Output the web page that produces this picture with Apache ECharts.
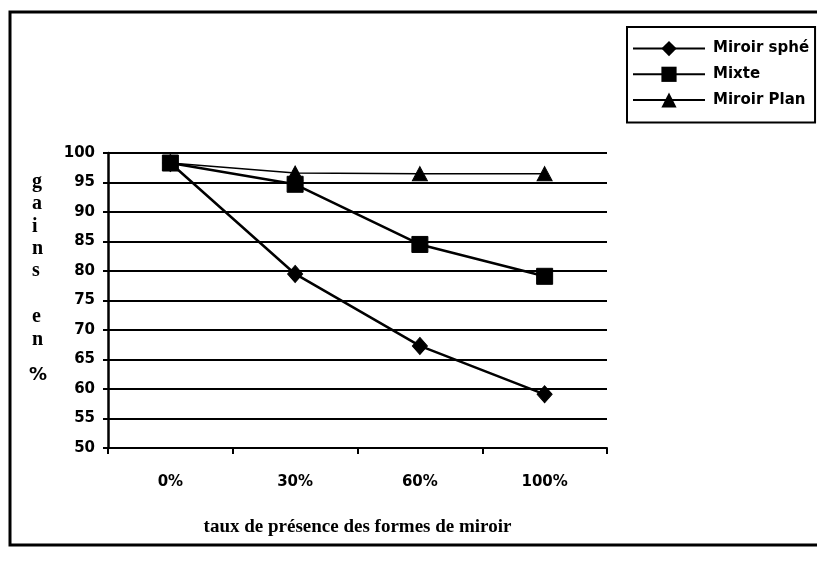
<!DOCTYPE html>
<html>
<head>
<meta charset="utf-8">
<script src="https://cdn.jsdelivr.net/npm/echarts@6/dist/echarts.min.js"></script>
<style>
  html, body { margin: 0; padding: 0; background: #fff; }
  #chart { width: 817px; height: 577px; }
</style>
</head>
<body>
<div id="chart"></div>
<script>
// Mirror-shape presence rate and the resulting gain (%)
var categories = ['0%', '30%', '60%', '100%'];
var seriesNames = ['Miroir sphé', 'Mixte', 'Miroir Plan'];
var miroirSphe = [98.3, 79.5, 67.3, 59.1];
var mixte = [98.3, 94.7, 84.5, 79.1];
var miroirPlan = [98.3, 96.6, 96.5, 96.5];
var yTicks = { min: 50, max: 100, step: 5 };
var yNameLetters = ['g', 'a', 'i', 'n', 's', 'e', 'n', '%'];

var chart = echarts.init(document.getElementById('chart'), null, { renderer: 'canvas' });

var labelFont = { color: '#000', fontFamily: 'DejaVu Sans', fontWeight: 'bold', fontSize: 15 };
var yLetterTop = [183, 205, 228, 250, 272, 318, 341, 377];

var option = {
  backgroundColor: '#fff',
  animation: false,
  grid: { left: 108, right: 210, top: 153, bottom: 129 },
  legend: {
    data: seriesNames,
    orient: 'vertical',
    left: 627,
    top: 27,
    padding: [14, 6, 15, 5],
    itemGap: 10.5,
    itemWidth: 72,
    itemHeight: 19,
    borderColor: '#000',
    borderWidth: 2,
    backgroundColor: '#fff',
    textStyle: { color: '#000', fontFamily: 'DejaVu Sans', fontWeight: 'bold', fontSize: 15, padding: [0, 0, 0, 3] }
  },
  xAxis: {
    type: 'category',
    data: categories,
    boundaryGap: true,
    name: 'taux de présence des formes de miroir',
    nameLocation: 'middle',
    nameGap: 70,
    nameTextStyle: { color: '#000', fontFamily: 'Liberation Serif', fontWeight: 'bold', fontSize: 19 },
    axisLine: { show: true, lineStyle: { color: '#000', width: 2 } },
    axisTick: { show: true, inside: false, length: 6, lineStyle: { color: '#000', width: 2 } },
    axisLabel: Object.assign({ margin: 27 }, labelFont),
    splitLine: { show: false }
  },
  yAxis: {
    type: 'value',
    min: yTicks.min,
    max: yTicks.max,
    interval: yTicks.step,
    axisLine: { show: true, lineStyle: { color: '#000', width: 2.5 } },
    axisTick: { show: true, inside: false, length: 5, lineStyle: { color: '#000', width: 2 } },
    axisLabel: Object.assign({ margin: 13 }, labelFont),
    splitLine: { show: true, lineStyle: { color: '#000', width: 2 } }
  },
  series: [
    {
      name: seriesNames[0], type: 'line', data: miroirSphe, z: 3,
      symbol: 'diamond', symbolSize: [15, 17],
      lineStyle: { color: '#000', width: 2.5 },
      itemStyle: { color: '#000', borderColor: '#000' }
    },
    {
      name: seriesNames[1], type: 'line', data: mixte, z: 5,
      symbol: 'rect', symbolSize: 16,
      lineStyle: { color: '#000', width: 2.5 },
      itemStyle: { color: '#000', borderColor: '#000' }
    },
    {
      name: seriesNames[2], type: 'line', data: miroirPlan, z: 4,
      symbol: 'triangle', symbolSize: [15, 14],
      lineStyle: { color: '#000', width: 1.5 },
      itemStyle: { color: '#000', borderColor: '#000' }
    }
  ],
  graphic: [
    {
      type: 'rect', z: -10, silent: true,
      shape: { x: 10, y: 12, width: 830, height: 533 },
      style: { fill: 'none', stroke: '#000', lineWidth: 3 }
    }
  ].concat(yNameLetters.map(function (ch, i) {
    return {
      type: 'text', silent: true,
      left: ch === '%' ? 29 : 32,
      top: yLetterTop[i] - 11,
      style: {
        text: ch,
        fill: '#000',
        font: ch === '%' ? 'bold 18px DejaVu Sans' : 'bold 20px Liberation Serif'
      }
    };
  }))
};

chart.setOption(option);
</script>
</body>
</html>
